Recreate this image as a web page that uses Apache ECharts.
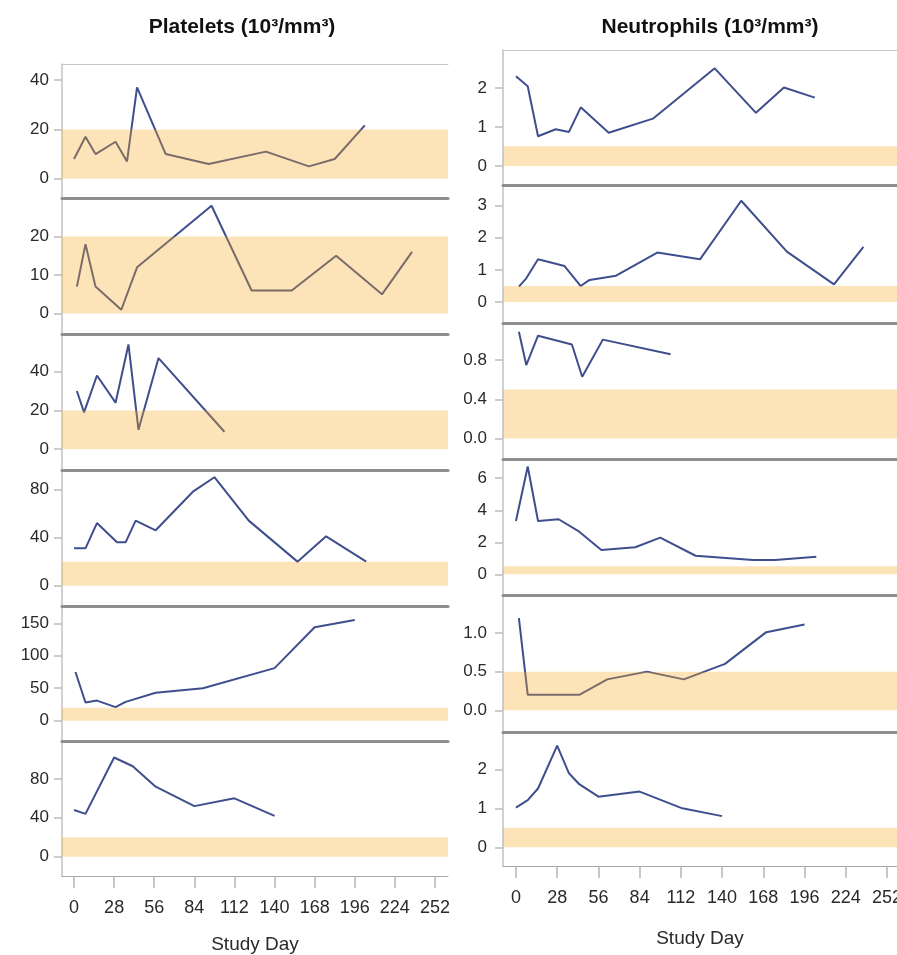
<!DOCTYPE html>
<html><head><meta charset="utf-8">
<script src="https://cdn.jsdelivr.net/npm/echarts@6/dist/echarts.min.js"></script>
<style>html,body{margin:0;padding:0;background:#fff}#c{width:897px;height:955px}</style>
</head><body><div id="c"></div>
<script>
// ---- data ----
const dayTicks = [0, 28, 56, 84, 112, 140, 168, 196, 224, 252];

const pltDay1 = [0, 8, 15, 29, 37, 44, 64, 94, 134, 164, 182, 203];
const pltVal1 = [8, 17, 10, 15, 7, 37, 10, 6, 11, 5, 8, 21.6];
const pltDay2 = [2, 8, 15, 33, 44, 96, 124, 152, 183, 215, 236];
const pltVal2 = [7, 18, 7, 1, 12, 28, 6, 6, 15, 5, 16];
const pltDay3 = [2, 7, 16, 29, 38, 45, 59, 105];
const pltVal3 = [30, 19, 38, 24, 54, 10, 47, 9];
const pltDay4 = [0, 8, 16, 30, 36, 43, 57, 83, 98, 122, 156, 176, 204];
const pltVal4 = [31, 31, 52, 36, 36, 54, 46, 78, 90, 54, 20, 41, 20];
const pltDay5 = [1, 8, 16, 29, 36, 57, 90, 140, 168, 196];
const pltVal5 = [75, 28, 31, 21, 29, 43, 50, 81, 144, 155];
const pltDay6 = [0, 8, 28, 41, 57, 84, 112, 140];
const pltVal6 = [48, 44, 102, 93, 72, 52, 60, 42];

const neuDay1 = [0, 8, 15, 27, 36, 44, 63, 93, 135, 163, 182, 203];
const neuVal1 = [2.3, 2.04, 0.76, 0.94, 0.87, 1.5, 0.85, 1.21, 2.5, 1.36, 2.01, 1.75];
const neuDay2 = [2, 7, 15, 33, 44, 50, 68, 96, 125, 153, 184, 216, 236];
const neuVal2 = [0.48, 0.74, 1.33, 1.12, 0.5, 0.69, 0.82, 1.54, 1.33, 3.15, 1.57, 0.55, 1.72];
const neuDay3 = [2, 7, 15, 38, 45, 59, 105];
const neuVal3 = [1.09, 0.75, 1.05, 0.96, 0.63, 1.01, 0.86];
const neuDay4 = [0, 8, 15, 29, 43, 58, 81, 98, 122, 161, 176, 204];
const neuVal4 = [3.33, 6.73, 3.33, 3.44, 2.66, 1.52, 1.69, 2.29, 1.16, 0.89, 0.89, 1.1];
const neuDay5 = [2, 8, 43, 62, 89, 114, 142, 170, 196];
const neuVal5 = [1.19, 0.2, 0.2, 0.4, 0.5, 0.4, 0.6, 1.01, 1.11];
const neuDay6 = [0, 8, 15, 28, 36, 43, 56, 84, 113, 140];
const neuVal6 = [1.02, 1.21, 1.51, 2.61, 1.9, 1.62, 1.3, 1.43, 1.0, 0.8];

const pltTicks = [[0, 20, 40], [0, 10, 20], [0, 20, 40], [0, 40, 80], [0, 50, 100, 150], [0, 40, 80]];
const neuTicks = [[0, 1, 2], [0, 1, 2, 3], [0, 0.4, 0.8], [0, 2, 4, 6], [0, 0.5, 1.0], [0, 1, 2]];
const pltBand = 20;
const neuBand = 0.5;
const titles = ['Platelets (10³/mm³)', 'Neutrophils (10³/mm³)'];
const xName = 'Study Day';

// ---- layout ----
const pltDays = [pltDay1, pltDay2, pltDay3, pltDay4, pltDay5, pltDay6];
const pltVals = [pltVal1, pltVal2, pltVal3, pltVal4, pltVal5, pltVal6];
const neuDays = [neuDay1, neuDay2, neuDay3, neuDay4, neuDay5, neuDay6];
const neuVals = [neuVal1, neuVal2, neuVal3, neuVal4, neuVal5, neuVal6];

const cols = [
  {left: 62, width: 386, xMin: -8.4, xMax: 261.1,
   tops: [64, 198, 334, 470, 606, 741], bottom: 876,
   yRange: [[-7.8, 46.5], [-5.3, 30], [-10.7, 59.4], [-16.8, 96], [-31.2, 176.6], [-19.9, 119]],
   days: pltDays, vals: pltVals, ticks: pltTicks, band: pltBand, dec: false,
   labMargin: 13, xLabMargin: 23, nameGap: 59},
  {left: 503, width: 394, xMin: -8.8, xMax: 258.8,
   tops: [50, 185, 323, 459, 595, 732], bottom: 866,
   yRange: [[-0.49, 2.97], [-0.65, 3.64], [-0.21, 1.18], [-1.29, 7.2], [-0.28, 1.49], [-0.48, 2.96]],
   days: neuDays, vals: neuVals, ticks: neuTicks, band: neuBand, dec: true,
   labMargin: 16, xLabMargin: 23, nameGap: 63}
];

const fontTick = '"Liberation Sans", Arial, sans-serif';

const grid = [], xAxis = [], yAxis = [], series = [];
cols.forEach((c, ci) => {
  for (let p = 0; p < 6; p++) {
    const gi = grid.length;
    const top = c.tops[p];
    const bot = p < 5 ? c.tops[p + 1] : c.bottom;
    grid.push({left: c.left, width: c.width, top: top, height: bot - top,
      outerBoundsMode: 'none', containLabel: false});
    const last = p === 5;
    const tks = c.ticks[p];
    const decimals = c.dec && tks.some(v => v % 1 !== 0);
    // bottom axis
    xAxis.push({
      type: 'value', gridIndex: gi, min: c.xMin, max: c.xMax, position: 'bottom',
      axisLine: {show: last, onZero: false, lineStyle: {color: '#a9a9a9', width: 1}},
      axisTick: {show: last, customValues: dayTicks, length: 12, lineStyle: {color: '#b5b5b5', width: 1.5}},
      axisLabel: {show: last, customValues: dayTicks, margin: c.xLabMargin, color: '#2a2a2a',
        fontFamily: fontTick, fontSize: 18, hideOverlap: false},
      splitLine: {show: false},
      name: last ? xName : '', nameLocation: 'middle', nameGap: c.nameGap,
      nameTextStyle: {fontFamily: fontTick, fontSize: 19, color: '#2a2a2a'}
    });
    // top axis as panel separator
    xAxis.push({
      type: 'value', gridIndex: gi, min: c.xMin, max: c.xMax, position: 'top',
      axisLine: {show: true, onZero: false, lineStyle: {color: p === 0 ? '#c8c8c8' : '#8e8e8e', width: p === 0 ? 1 : 3}},
      axisTick: {show: false}, axisLabel: {show: false}, splitLine: {show: false}
    });
    yAxis.push({
      type: 'value', gridIndex: gi, min: c.yRange[p][0], max: c.yRange[p][1],
      axisLine: {show: true, onZero: false, lineStyle: {color: '#c2c2c2', width: 1.5}},
      axisTick: {show: true, customValues: tks, length: 8, lineStyle: {color: '#bdbdbd', width: 1.5}},
      axisLabel: {show: true, customValues: tks, margin: c.labMargin, color: '#2a2a2a',
        fontFamily: fontTick, fontSize: 17,
        formatter: v => decimals ? Number(v).toFixed(1) : String(v)},
      splitLine: {show: false}
    });
    series.push({
      type: 'line', xAxisIndex: gi * 2, yAxisIndex: gi,
      data: c.days[p].map((d, k) => [d, c.vals[p][k]]),
      showSymbol: false, symbol: 'none', silent: true, z: 2,
      lineStyle: {color: '#3f4e8c', width: 2}
    });
    series.push({
      type: 'line', xAxisIndex: gi * 2, yAxisIndex: gi,
      data: [[c.xMin, c.band], [c.xMax, c.band]],
      showSymbol: false, symbol: 'none', silent: true, z: 3,
      lineStyle: {width: 0, color: 'rgba(0,0,0,0)'},
      areaStyle: {origin: 0, color: 'rgba(248,170,35,0.32)', opacity: 1}
    });
  }
});

const chart = echarts.init(document.getElementById('c'), null, {renderer: 'canvas'});
chart.setOption({
  animation: false,
  backgroundColor: '#ffffff',
  title: [
    {text: titles[0], left: 237, top: 12, textAlign: 'center',
     textStyle: {fontFamily: fontTick, fontWeight: 'bold', fontSize: 21, color: '#111'}},
    {text: titles[1], left: 705, top: 12, textAlign: 'center',
     textStyle: {fontFamily: fontTick, fontWeight: 'bold', fontSize: 21, color: '#111'}}
  ],
  grid: grid, xAxis: xAxis, yAxis: yAxis, series: series
});
</script></body></html>
